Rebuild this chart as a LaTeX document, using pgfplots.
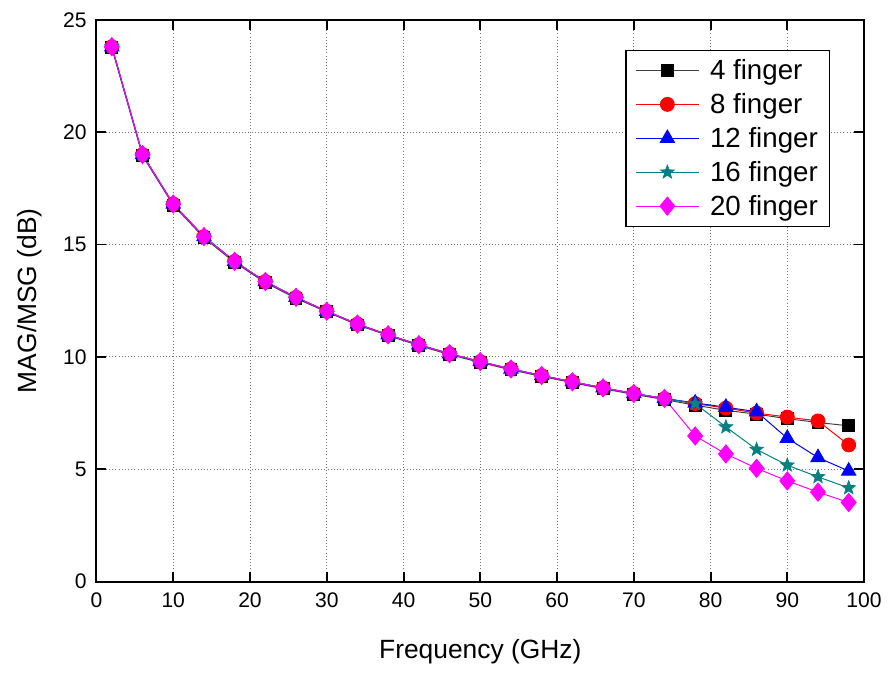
\documentclass[border=0pt]{standalone}
\usepackage{pgfplots}
\pgfplotsset{compat=1.18}
\usepackage{fontspec}
\setmainfont{Liberation Sans}
\definecolor{c4}{RGB}{0,0,0}
\definecolor{c8}{RGB}{255,0,0}
\definecolor{c12}{RGB}{0,0,255}
\definecolor{c16}{RGB}{0,128,128}
\definecolor{c20}{RGB}{255,0,255}

% filled five-point star
\pgfdeclareplotmark{fstar}{%
  \pgfpathmoveto{\pgfpointpolar{90}{\pgfplotmarksize}}%
  \pgfpathlineto{\pgfpointpolar{126}{0.42\pgfplotmarksize}}%
  \pgfpathlineto{\pgfpointpolar{162}{\pgfplotmarksize}}%
  \pgfpathlineto{\pgfpointpolar{198}{0.42\pgfplotmarksize}}%
  \pgfpathlineto{\pgfpointpolar{234}{\pgfplotmarksize}}%
  \pgfpathlineto{\pgfpointpolar{270}{0.42\pgfplotmarksize}}%
  \pgfpathlineto{\pgfpointpolar{306}{\pgfplotmarksize}}%
  \pgfpathlineto{\pgfpointpolar{342}{0.42\pgfplotmarksize}}%
  \pgfpathlineto{\pgfpointpolar{18}{\pgfplotmarksize}}%
  \pgfpathlineto{\pgfpointpolar{54}{0.42\pgfplotmarksize}}%
  \pgfpathclose
  \pgfusepathqfillstroke}

\begin{document}
\begin{tikzpicture}
  \begin{axis}[
    scale only axis,
    width=582pt, height=426pt,
    xmin=0, xmax=100, ymin=0, ymax=25,
    xtick={0,10,...,100}, ytick={0,5,...,25},
    tick align=inside, major tick length=7.5pt,
    xtick pos=both, ytick pos=both,
    grid=major, grid style={dotted, black!55, line width=0.75pt},
    axis line style={line width=1.5pt},
    tick style={line width=1.5pt, black},
    /pgf/number format/assume math mode=true,
    ticklabel style={font=\fontsize{16}{19}\selectfont},
    xticklabel style={yshift=-5pt},
    yticklabel style={xshift=-4pt},
    xlabel={Frequency (GHz)}, ylabel={MAG/MSG (dB)},
    label style={font=\fontsize{20}{24}\selectfont},
    xlabel style={yshift=-17pt},
    ylabel style={yshift=9pt},
    legend style={at={(0.689,0.947)}, anchor=north west,
      font=\fontsize{21}{25}\selectfont, draw=black, line width=1pt,
      row sep=5pt, inner xsep=7pt, inner ysep=5pt,
      nodes={inner sep=2pt}},
    legend cell align=left,
    legend image code/.code={%
      \draw[mark repeat=2, mark phase=2] plot coordinates {(3pt,0pt) (27pt,0pt) (51pt,0pt)};
      \path (57pt,0pt);},
    every axis plot/.append style={line width=0.75pt},
  ]
    \addplot[c4!75, mark=square*, mark size=4.5pt, mark options={c4, solid}]
      coordinates {(2,23.75) (6,18.95) (10,16.75) (14,15.3) (18,14.2) (22,13.3)
        (26,12.6) (30,12.0) (34,11.42) (38,10.95) (42,10.5) (46,10.1) (50,9.75)
        (54,9.42) (58,9.13) (62,8.85) (66,8.58) (70,8.33) (74,8.1) (78,7.85)
        (82,7.62) (86,7.45) (90,7.25) (94,7.08) (98,6.93)};
    \addlegendentry{4 finger}
    \addplot[c8, mark=*, mark size=5.25pt, mark options={c8, solid}]
      coordinates {(2,23.8) (6,19.0) (10,16.8) (14,15.35) (18,14.25) (22,13.35)
        (26,12.65) (30,12.03) (34,11.46) (38,10.98) (42,10.54) (46,10.14) (50,9.79)
        (54,9.46) (58,9.17) (62,8.89) (66,8.62) (70,8.37) (74,8.14) (78,7.92)
        (82,7.72) (86,7.5) (90,7.32) (94,7.15) (98,6.08)};
    \addlegendentry{8 finger}
    \addplot[c12, mark=triangle*, mark size=6.2pt, mark options={c12, solid}]
      coordinates {(2,23.8) (6,19.0) (10,16.8) (14,15.35) (18,14.25) (22,13.35)
        (26,12.65) (30,12.03) (34,11.46) (38,10.98) (42,10.54) (46,10.14) (50,9.79)
        (54,9.46) (58,9.17) (62,8.89) (66,8.62) (70,8.37) (74,8.15) (78,7.95)
        (82,7.76) (86,7.56) (90,6.38) (94,5.52) (98,4.92)};
    \addlegendentry{12 finger}
    \addplot[c16, mark=fstar, mark size=5.5pt, mark options={c16, solid, line width=0.5pt}]
      coordinates {(2,23.8) (6,19.0) (10,16.8) (14,15.35) (18,14.25) (22,13.35)
        (26,12.65) (30,12.03) (34,11.46) (38,10.98) (42,10.54) (46,10.14) (50,9.79)
        (54,9.46) (58,9.17) (62,8.89) (66,8.62) (70,8.37) (74,8.15) (78,7.92)
        (82,6.88) (86,5.88) (90,5.18) (94,4.66) (98,4.17)};
    \addlegendentry{16 finger}
    \addplot[c20, mark=diamond*, mark size=6.8pt, mark options={c20, solid, xscale=1.1}]
      coordinates {(2,23.8) (6,19.0) (10,16.8) (14,15.35) (18,14.25) (22,13.35)
        (26,12.65) (30,12.03) (34,11.46) (38,10.98) (42,10.54) (46,10.14) (50,9.79)
        (54,9.46) (58,9.17) (62,8.89) (66,8.62) (70,8.37) (74,8.15) (78,6.48)
        (82,5.68) (86,5.04) (90,4.48) (94,3.98) (98,3.52)};
    \addlegendentry{20 finger}
  \end{axis}
  % white margins as in the reference
  \path ([xshift=-10pt]current axis.outer west)
        ([xshift=3pt]current axis.outer east)
        ([yshift=-4pt]current axis.outer south)
        ([yshift=6pt]current axis.outer north);
\end{tikzpicture}
\end{document}
